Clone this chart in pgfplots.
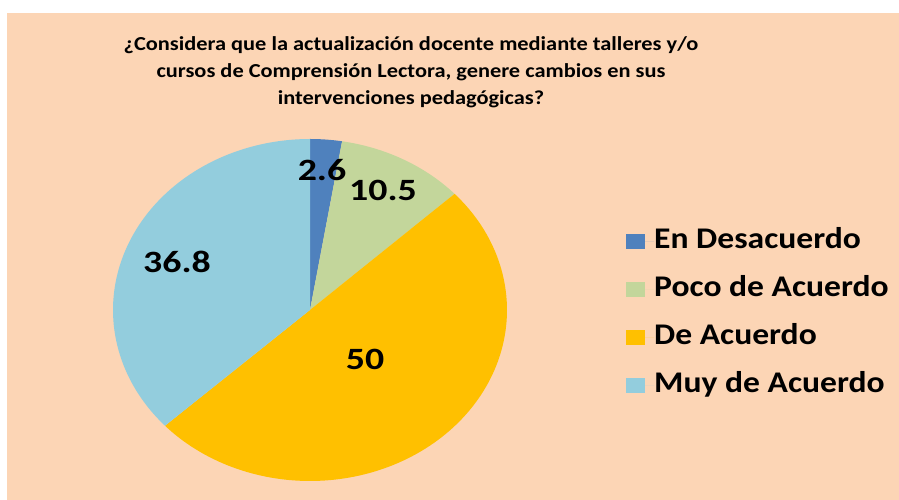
\documentclass[border=0pt]{standalone}
\usepackage{fontspec}
\setmainfont{Carlito}
\newfontfamily\widefont{Carlito}[FakeStretch=1.12]
\newfontfamily\titlefont{Carlito}[FakeStretch=1.13]
\newfontfamily\labelfont{Carlito}[FakeStretch=1.22]
\usepackage{pgfplots}
\usepackage{pgfplotstable}
\pgfplotsset{compat=1.18}
\definecolor{bgpeach}{HTML}{FCD5B5}
\definecolor{cblue}{HTML}{4F81BD}
\definecolor{cgreen}{HTML}{C3D69B}
\definecolor{cyellow}{HTML}{FFC000}
\definecolor{clight}{HTML}{93CDDD}
\pgfplotstableread{
cat value
1 2.6
2 10.5
3 50
4 36.8
}\piedata
\begin{document}
\begin{tikzpicture}
\pgfplotstablegetelem{0}{value}\of\piedata \let\va\pgfplotsretval
\pgfplotstablegetelem{1}{value}\of\piedata \let\vb\pgfplotsretval
\pgfplotstablegetelem{2}{value}\of\piedata \let\vc\pgfplotsretval
\pgfplotstablegetelem{3}{value}\of\piedata \let\vd\pgfplotsretval
\pgfmathsetmacro\tot{\va+\vb+\vc+\vd}
\pgfmathsetmacro\aa{90}
\pgfmathsetmacro\ab{90-(\va/\tot)*360}
\pgfmathsetmacro\ac{\ab-(\vb/\tot)*360}
\pgfmathsetmacro\ad{\ac-(\vc/\tot)*360}
\pgfmathsetmacro\ae{\ad-(\vd/\tot)*360}
\begin{axis}[
  scale only axis, width=899pt, height=500pt,
  xmin=0, xmax=899, ymin=0, ymax=500,
  hide axis, clip=false,
  legend cell align=left,
  legend style={at={(axis cs:626,271.5)}, anchor=north west, draw=none, fill=none,
    font=\widefont\bfseries\fontsize{30}{30}\selectfont,
    row sep=22pt, inner sep=0pt, column sep=0pt,
    nodes={inner sep=0pt, text height=20pt, text depth=6pt}},
  legend image code/.code={\path[#1] (0pt,-7.5pt) rectangle (19pt,7.5pt); \path (0pt,0pt) -- (28pt,0pt);},
]
\fill[white] (0,0) rectangle (899,500);
\fill[bgpeach] (7,0) rectangle (899,487);
\node[font=\titlefont\bfseries\fontsize{19.8}{27}\selectfont, align=center] at (411,428)
  {¿Considera que la actualización docente mediante talleres y/o\\
   cursos de Comprensión Lectora, genere cambios en sus\\
   intervenciones pedagógicas?};
\addplot[fill=cblue, draw=none, domain=\ab:\aa, samples=20, variable=\t]
  ({310+197*cos(\t)},{190+171*sin(\t)}) -- (310,190) -- cycle;
\addlegendentry{En Desacuerdo}
\addplot[fill=cgreen, draw=none, domain=\ac:\ab, samples=40, variable=\t]
  ({310+197*cos(\t)},{190+171*sin(\t)}) -- (310,190) -- cycle;
\addlegendentry{Poco de Acuerdo}
\addplot[fill=cyellow, draw=none, domain=\ad:\ac, samples=120, variable=\t]
  ({310+197*cos(\t)},{190+171*sin(\t)}) -- (310,190) -- cycle;
\addlegendentry{De Acuerdo}
\addplot[fill=clight, draw=none, domain=\ae:\ad, samples=100, variable=\t]
  ({310+197*cos(\t)},{190+171*sin(\t)}) -- (310,190) -- cycle;
\addlegendentry{Muy de Acuerdo}
\begin{scope}[every node/.style={font=\labelfont\bfseries\fontsize{31}{31}\selectfont, inner sep=0pt}]
\node at (322,330) {2.6};
\node at (383,310) {10.5};
\node at (177,238) {36.8};
\node at (365,141) {50};
\end{scope}
\end{axis}
\end{tikzpicture}
\end{document}
